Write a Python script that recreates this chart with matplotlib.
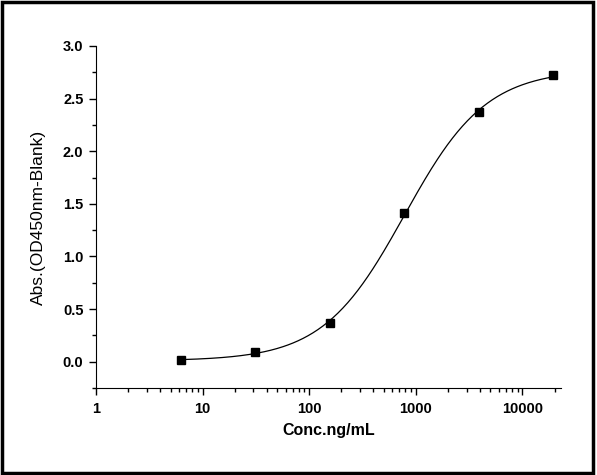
import numpy as np
import matplotlib
matplotlib.use("Agg")
import matplotlib.pyplot as plt
from matplotlib.patches import Rectangle
from matplotlib.ticker import LogLocator, MultipleLocator, FixedFormatter, FixedLocator, FormatStrFormatter

# standard curve data
conc = [6.25, 31.25, 156.25, 781.25, 3906.25, 19531.25]
absorb = [0.02, 0.09, 0.37, 1.41, 2.37, 2.72]

x_ticks = [1, 10, 100, 1000, 10000]
x_ticklabels = ["1", "10", "100", "1000", "10000"]


def four_pl(x, p):
    a, b, c, d = p
    return d + (a - d) / (1.0 + (x / c) ** b)


def fit_4pl(x, y, p0, n_iter=200):
    # small damped Gauss-Newton, enough for 6 points
    p = np.array(p0, dtype=float)
    lam = 1e-3
    for _ in range(n_iter):
        r = y - four_pl(x, p)
        J = np.zeros((len(x), 4))
        for k in range(4):
            dp = np.zeros(4)
            dp[k] = 1e-6 * max(abs(p[k]), 1.0)
            J[:, k] = (four_pl(x, p + dp) - four_pl(x, p)) / dp[k]
        A = J.T @ J
        step = np.linalg.solve(A + lam * np.diag(np.diag(A)), J.T @ r)
        p_new = p + step
        if p_new[2] > 0 and np.sum((y - four_pl(x, p_new)) ** 2) < np.sum(r ** 2):
            p = p_new
            lam *= 0.5
        else:
            lam *= 4
    return p


x = np.array(conc)
y = np.array(absorb)
params = fit_4pl(x, y, [0.02, 1.1, 800.0, 2.78])
xs = np.logspace(np.log10(x[0]), np.log10(x[-1]), 300)

fig = plt.figure(figsize=(5.97, 4.75), dpi=100)
ax = fig.add_axes([0.1608, 0.1832, 0.9397 - 0.1608, 0.9032 - 0.1832])

ax.plot(xs, four_pl(xs, params), color="black", linewidth=0.9)
ax.plot(conc, absorb, "s", color="black", markersize=5.5)

ax.set_xscale("log")
ax.set_xlim(1, 23000)
ax.set_ylim(-0.25, 3.0)

ax.spines["top"].set_visible(False)
ax.spines["right"].set_visible(False)

ax.xaxis.set_major_locator(FixedLocator(x_ticks))
ax.xaxis.set_major_formatter(FixedFormatter(x_ticklabels))
ax.xaxis.set_minor_locator(LogLocator(base=10, subs=np.arange(2, 10), numticks=20))
ax.yaxis.set_major_locator(MultipleLocator(0.5))
ax.yaxis.set_minor_locator(MultipleLocator(0.25))
ax.yaxis.set_major_formatter(FormatStrFormatter("%.1f"))

ax.tick_params(which="major", direction="out", length=5, width=1, labelsize=10.5)
ax.tick_params(which="minor", direction="out", length=3, width=1)
ax.tick_params(axis="x", pad=5)
ax.tick_params(axis="y", pad=4)
for lab in ax.get_xticklabels() + ax.get_yticklabels():
    lab.set_fontfamily("Liberation Sans")
    lab.set_fontweight("bold")

ax.set_xlabel("Conc.ng/mL", fontsize=11.5, fontweight="bold", family="Liberation Sans", labelpad=5)
ax.set_ylabel("Abs.(OD450nm-Blank)", fontsize=12.5, family="Liberation Sans", labelpad=12)

# black frame around the whole picture
fig.patches.append(Rectangle((0.003, 0.004), 0.991, 0.992, transform=fig.transFigure,
                             fill=False, edgecolor="black", linewidth=2.5))

fig.savefig("out.png", dpi=100, facecolor="white")
